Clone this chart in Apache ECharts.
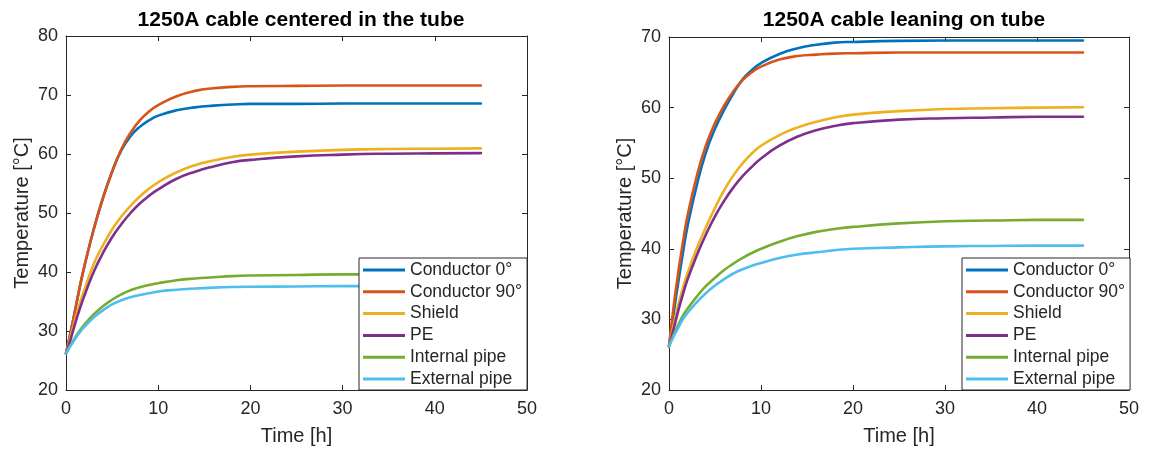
<!DOCTYPE html>
<html>
<head>
<meta charset="utf-8">
<script src="https://cdn.jsdelivr.net/npm/echarts@6/dist/echarts.min.js"></script>
<style>
html,body{margin:0;padding:0;background:#fff;}
#chart{width:1155px;height:453px;}
</style>
</head>
<body>
<div id="chart"></div>
<script>
// ---- data ----
const hours = [0, 0.5, 1, 1.5, 2, 3, 4, 5, 6, 7, 8, 9, 10, 12, 14, 16, 18, 20, 25, 30, 35, 40, 45];

const seriesNames = ['Conductor 0°', 'Conductor 90°', 'Shield', 'PE', 'Internal pipe', 'External pipe'];
const titles = ['1250A cable centered in the tube', '1250A cable leaning on tube'];
const xTicks = [0, 10, 20, 30, 40, 50];
const yTicksLeft = [20, 30, 40, 50, 60, 70, 80];
const yTicksRight = [20, 30, 40, 50, 60, 70];

// left plot: cable centered in the tube
const centeredCond0   = [26.2, 29.8, 33.6, 37.5, 41.0, 47.2, 52.5, 57.0, 60.6, 63.0, 64.6, 65.7, 66.5, 67.4, 67.9, 68.2, 68.4, 68.5, 68.5, 68.55, 68.55, 68.55, 68.55];
const centeredCond90  = [26.2, 29.8, 33.6, 37.5, 41.0, 47.2, 52.5, 57.0, 60.8, 63.6, 65.7, 67.2, 68.3, 69.8, 70.7, 71.15, 71.38, 71.48, 71.55, 71.6, 71.6, 71.6, 71.6];
const centeredShield  = [26.2, 29.0, 32.0, 34.7, 37.0, 41.3, 44.5, 47.2, 49.4, 51.2, 52.8, 54.1, 55.2, 56.9, 58.1, 58.9, 59.5, 59.9, 60.4, 60.7, 60.85, 60.9, 60.95];
const centeredPE      = [26.2, 28.6, 31.3, 33.8, 36.0, 40.0, 43.2, 45.9, 48.1, 50.0, 51.6, 52.9, 54.0, 55.8, 57.0, 57.9, 58.6, 59.0, 59.6, 59.9, 60.05, 60.1, 60.15];
const centeredIntPipe = [26.2, 27.6, 28.9, 30.1, 31.1, 32.8, 34.2, 35.3, 36.2, 36.9, 37.4, 37.8, 38.1, 38.6, 38.9, 39.1, 39.3, 39.4, 39.5, 39.6, 39.6, 39.6, 39.6];
const centeredExtPipe = [26.2, 27.5, 28.7, 29.8, 30.7, 32.3, 33.5, 34.5, 35.2, 35.7, 36.1, 36.4, 36.7, 37.0, 37.2, 37.35, 37.45, 37.5, 37.55, 37.6, 37.6, 37.6, 37.6];

// right plot: cable leaning on tube
const leaningCond0    = [26.2, 30.8, 35.2, 39.3, 43.1, 48.9, 53.6, 57.0, 59.7, 62.0, 64.0, 65.3, 66.3, 67.6, 68.4, 68.9, 69.2, 69.3, 69.45, 69.5, 69.5, 69.5, 69.5];
const leaningCond90   = [26.2, 31.8, 36.6, 40.8, 44.6, 50.2, 54.6, 57.8, 60.3, 62.3, 63.9, 65.0, 65.8, 66.8, 67.3, 67.5, 67.65, 67.7, 67.8, 67.8, 67.8, 67.8, 67.8];
const leaningShield   = [26.2, 29.1, 32.0, 34.4, 36.5, 40.0, 43.0, 45.8, 48.3, 50.4, 52.1, 53.5, 54.6, 56.1, 57.2, 58.0, 58.6, 59.0, 59.5, 59.8, 59.9, 60.0, 60.05];
const leaningPE       = [26.2, 28.6, 31.2, 33.5, 35.6, 39.0, 42.0, 44.6, 46.8, 48.7, 50.3, 51.6, 52.8, 54.6, 55.9, 56.8, 57.4, 57.8, 58.3, 58.5, 58.6, 58.7, 58.7];
const leaningIntPipe  = [26.2, 27.8, 29.2, 30.5, 31.5, 33.2, 34.7, 35.9, 37.0, 37.9, 38.7, 39.4, 40.0, 41.0, 41.8, 42.4, 42.8, 43.1, 43.6, 43.9, 44.0, 44.1, 44.1];
const leaningExtPipe  = [26.2, 27.6, 28.8, 30.0, 30.9, 32.4, 33.7, 34.8, 35.7, 36.5, 37.1, 37.6, 38.0, 38.7, 39.2, 39.5, 39.8, 40.0, 40.2, 40.35, 40.4, 40.45, 40.45];

const colors = ['#0072BD', '#D95319', '#EDB120', '#7E2F8E', '#77AC30', '#4DBEEE'];

// ---- chart ----
const FONT = "'Liberation Sans', Arial, Helvetica, sans-serif";
const AX = '#262626';
const chart = echarts.init(document.getElementById('chart'), null, {renderer: 'canvas'});

const leftSets = [centeredCond0, centeredCond90, centeredShield, centeredPE, centeredIntPipe, centeredExtPipe];
const rightSets = [leaningCond0, leaningCond90, leaningShield, leaningPE, leaningIntPipe, leaningExtPipe];

function pairs(arr) { return hours.map((h, i) => [h, arr[i]]); }

function mkSeries(sets, axisIdx) {
  return sets.map((arr, i) => ({
    type: 'line', name: seriesNames[i], data: pairs(arr),
    xAxisIndex: axisIdx, yAxisIndex: axisIdx,
    showSymbol: false, symbol: 'none', smooth: 0.5,
    lineStyle: {color: colors[i], width: 2.6, cap: 'round', join: 'round'}, itemStyle: {color: colors[i]},
    clip: true, z: 2
  }));
}

function xAx(grid, pos, labels, ticks) {
  return {
    type: 'value', gridIndex: grid, position: pos, min: ticks[0], max: ticks[ticks.length - 1], interval: 10,
    axisLine: {show: true, onZero: false, lineStyle: {color: AX, width: 1}},
    axisTick: {show: true, inside: true, length: 5, lineStyle: {color: AX}},
    axisLabel: {show: labels, color: AX, fontSize: 18, fontFamily: FONT, margin: 10},
    splitLine: {show: false},
    name: labels ? 'Time [h]' : '', nameLocation: 'middle', nameGap: 36,
    nameTextStyle: {color: AX, fontSize: 20, fontFamily: FONT}
  };
}
function yAx(grid, pos, labels, ticks) {
  return {
    type: 'value', gridIndex: grid, position: pos, min: ticks[0], max: ticks[ticks.length - 1], interval: 10,
    axisLine: {show: true, onZero: false, lineStyle: {color: AX, width: 1}},
    axisTick: {show: true, inside: true, length: 5, lineStyle: {color: AX}},
    axisLabel: {show: labels, color: AX, fontSize: 18, fontFamily: FONT, margin: 8},
    splitLine: {show: false},
    name: labels ? 'Temperature [°C]' : '', nameLocation: 'middle', nameGap: 34,
    nameTextStyle: {color: AX, fontSize: 20, fontFamily: FONT}
  };
}

function legendAt(left) {
  return {
    show: true, orient: 'vertical', left: left, top: 258,
    data: seriesNames, icon: 'rect', itemWidth: 42, itemHeight: 3, itemGap: 3.8,
    padding: [3, 5, 2, 4], backgroundColor: '#ffffff', borderColor: AX, borderWidth: 1, borderRadius: 0,
    textStyle: {color: AX, fontSize: 17.5, fontFamily: FONT, lineHeight: 18},
    selectedMode: false, z: 10
  };
}

const option = {
  backgroundColor: '#ffffff',
  animation: false,
  color: colors,
  title: [
    {text: titles[0], left: 296, top: 5, textAlign: 'center',
     textStyle: {fontSize: 21, fontWeight: 'bold', color: '#000', fontFamily: FONT}},
    {text: titles[1], left: 899, top: 5, textAlign: 'center',
     textStyle: {fontSize: 21, fontWeight: 'bold', color: '#000', fontFamily: FONT}}
  ],
  grid: [
    {left: 66, right: 628, top: 36, bottom: 63, containLabel: false},
    {left: 669, right: 26, top: 37, bottom: 63, containLabel: false}
  ],
  xAxis: [xAx(0, 'bottom', true, xTicks), xAx(0, 'top', false, xTicks), xAx(1, 'bottom', true, xTicks), xAx(1, 'top', false, xTicks)],
  yAxis: [yAx(0, 'left', true, yTicksLeft), yAx(0, 'right', false, yTicksLeft), yAx(1, 'left', true, yTicksRight), yAx(1, 'right', false, yTicksRight)],
  legend: [legendAt(359), legendAt(962)],
  series: [].concat(mkSeries(leftSets, 0), mkSeries(rightSets, 2))
};
chart.setOption(option);
</script>
</body>
</html>
